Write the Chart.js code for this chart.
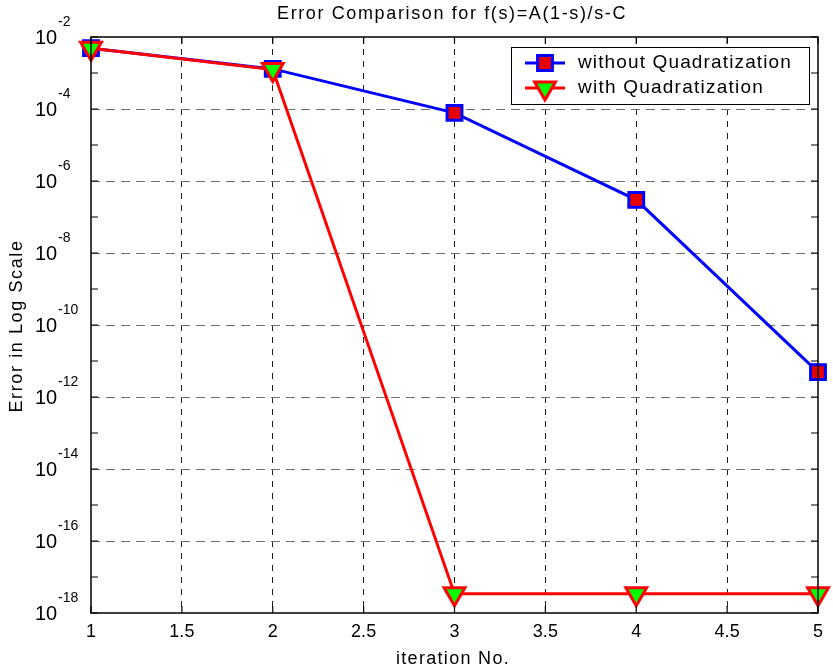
<!DOCTYPE html>
<html>
<head>
<meta charset="utf-8">
<script src="https://cdn.jsdelivr.net/npm/chart.js@4/dist/chart.umd.min.js"></script>
<style>
  html, body { margin: 0; padding: 0; background: #fff; }
  #wrap { width: 833px; height: 668px; }
</style>
</head>
<body>
<div id="wrap"><canvas id="errChart" width="833" height="668"></canvas></div>
<script>
    // data
    const iterations = [1, 2, 3, 4, 5];
    const errWithout = [4.9e-3, 1.3e-3, 7.8e-5, 3.0e-7, 4.9e-12];
    const errWith = [4.9e-3, 1.25e-3, 3.4e-18, 3.4e-18, 3.4e-18];
    const xTicks = [1, 1.5, 2, 2.5, 3, 3.5, 4, 4.5, 5];
    const yLabelExps = [-2, -4, -6, -8, -10, -12, -14, -16, -18];
    const seriesNames = ['without Quadratization', 'with Quadratization'];
    const titleText = 'Error Comparison for f(s)=A(1-s)/s-C';
    const xTitle = 'iteration No.';
    const yTitle = 'Error in Log Scale';

    const FONT = "'Liberation Sans', Arial, sans-serif";
    const dec = e => Number('1e' + e);

    const styles = [
        { line: '#0000ff', fill: '#e60000', shape: 'rect', radius: 10.5, rotation: 0 },
        { line: '#ff0000', fill: '#00ff00', shape: 'triangle', radius: 12, rotation: 180 }
    ];

    function drawMarker(ctx, st, x, y) {
        Chart.helpers.drawPoint(ctx, {
            pointStyle: st.shape, radius: st.radius, rotation: st.rotation, borderWidth: 3
        }, x, y);
    }

    function spacedText(ctx, text, x, y, target) {
        ctx.letterSpacing = '0px';
        const w = ctx.measureText(text).width;
        const sp = target ? (target - w) / text.length : 0;
        ctx.letterSpacing = sp + 'px';
        ctx.fillText(text, x, y);
        ctx.letterSpacing = '0px';
    }

    const framePlugin = {
        id: 'frame',
        afterDraw(chart) {
            const ctx = chart.ctx;
            const a = chart.chartArea;
            const xs = chart.scales.x, ys = chart.scales.y;
            ctx.save();
            ctx.strokeStyle = '#000';
            ctx.lineWidth = 1.5;
            ctx.setLineDash([]);
            ctx.strokeRect(a.left, a.top, a.right - a.left, a.bottom - a.top);

            // inward ticks
            ctx.lineWidth = 1.2;
            ctx.beginPath();
            xTicks.forEach(v => {
                const px = xs.getPixelForValue(v);
                ctx.moveTo(px, a.bottom); ctx.lineTo(px, a.bottom - 7);
                ctx.moveTo(px, a.top); ctx.lineTo(px, a.top + 7);
            });
            for (let e = -18; e <= -2; e++) {
                const py = ys.getPixelForValue(dec(e));
                ctx.moveTo(a.left, py); ctx.lineTo(a.left + 7, py);
                ctx.moveTo(a.right, py); ctx.lineTo(a.right - 7, py);
            }
            ctx.stroke();

            // y tick labels 10^n
            ctx.fillStyle = '#000';
            yLabelExps.forEach(e => {
                const py = ys.getPixelForValue(dec(e));
                ctx.font = '20px ' + FONT;
                ctx.textAlign = 'left';
                ctx.textBaseline = 'middle';
                ctx.fillText('10', 35, py + 1);
                ctx.font = '14px ' + FONT;
                ctx.fillText(String(e), 58, py - 15);
            });

            // title and axis titles
            ctx.textAlign = 'center';
            ctx.textBaseline = 'middle';
            ctx.font = '18px ' + FONT;
            spacedText(ctx, titleText, 452, 14, 350);
            ctx.font = '18px ' + FONT;
            spacedText(ctx, xTitle, 453, 659, 114);
            ctx.save();
            ctx.translate(17, 326);
            ctx.rotate(-Math.PI / 2);
            ctx.font = '18px ' + FONT;
            spacedText(ctx, yTitle, 0, 0, 173);
            ctx.restore();

            // legend
            const lx = 511, ly = 47, lw = 298, lh = 57;
            ctx.fillStyle = '#fff';
            ctx.fillRect(lx, ly, lw, lh);
            ctx.strokeStyle = '#000';
            ctx.lineWidth = 1;
            ctx.strokeRect(lx + 0.5, ly + 0.5, lw, lh);
            seriesNames.forEach((name, i) => {
                const st = styles[i];
                const rowY = ly + 16 + i * 25;
                ctx.strokeStyle = st.line;
                ctx.lineWidth = 3;
                ctx.beginPath();
                ctx.moveTo(525, rowY); ctx.lineTo(565, rowY);
                ctx.stroke();
                ctx.fillStyle = st.fill;
                drawMarker(ctx, st, 545, rowY);
                ctx.fillStyle = '#000';
                ctx.font = '19px ' + FONT;
                ctx.textAlign = 'left';
                ctx.textBaseline = 'middle';
                spacedText(ctx, name, 578, rowY, i === 0 ? 214 : 186);
            });
            ctx.restore();
        }
    };

    const ctx = document.getElementById('errChart').getContext('2d');
    const chart = new Chart(ctx, {
        type: 'line',
        data: {
            datasets: [errWithout, errWith].map((vals, i) => ({
                label: seriesNames[i],
                data: iterations.map((x, k) => ({ x, y: vals[k] })),
                borderColor: styles[i].line,
                backgroundColor: styles[i].fill,
                pointBackgroundColor: styles[i].fill,
                pointBorderColor: styles[i].line,
                pointBorderWidth: 3,
                pointStyle: styles[i].shape,
                pointRadius: styles[i].radius,
                pointRotation: styles[i].rotation,
                borderWidth: 3,
                tension: 0,
                fill: false,
                clip: false,
                order: i === 0 ? 1 : 0
            }))
        },
        options: {
            responsive: false,
            animation: false,
            devicePixelRatio: 1,
            layout: { padding: { left: 0, right: 13, top: 37, bottom: 0 } },
            plugins: { legend: { display: false }, title: { display: false }, tooltip: { enabled: false } },
            scales: {
                x: {
                    type: 'linear',
                    min: 1, max: 5,
                    afterBuildTicks: s => { s.ticks = xTicks.map(v => ({ value: v })); },
                    afterFit: s => { s.height = 55; },
                    ticks: {
                        callback: v => String(v),
                        color: '#000',
                        font: { family: FONT, size: 18 },
                        padding: 8,
                        maxRotation: 0,
                        autoSkip: false
                    },
                    grid: {
                        drawTicks: false,
                        lineWidth: 1,
                        color: c => (c.tick && c.tick.value > 1 && c.tick.value < 5) ? '#222' : 'rgba(0,0,0,0)'
                    },
                    border: { display: false, dash: [6, 6] }
                },
                y: {
                    type: 'logarithmic',
                    min: 1e-18, max: 1e-2,
                    afterBuildTicks: s => {
                        const t = [];
                        for (let e = -18; e <= -2; e++) t.push({ value: dec(e) });
                        s.ticks = t;
                    },
                    afterFit: s => { s.width = 91; },
                    ticks: { display: false },
                    grid: {
                        drawTicks: false,
                        lineWidth: 1,
                        color: c => {
                            if (!c.tick) return 'rgba(0,0,0,0)';
                            const e = Math.round(Math.log10(c.tick.value));
                            return (e % 2 === 0 && e > -18 && e < -2) ? '#707070' : 'rgba(0,0,0,0)';
                        }
                    },
                    border: { display: false, dash: [9, 6] }
                }
            }
        },
        plugins: [framePlugin]
    });
</script>
</body>
</html>
